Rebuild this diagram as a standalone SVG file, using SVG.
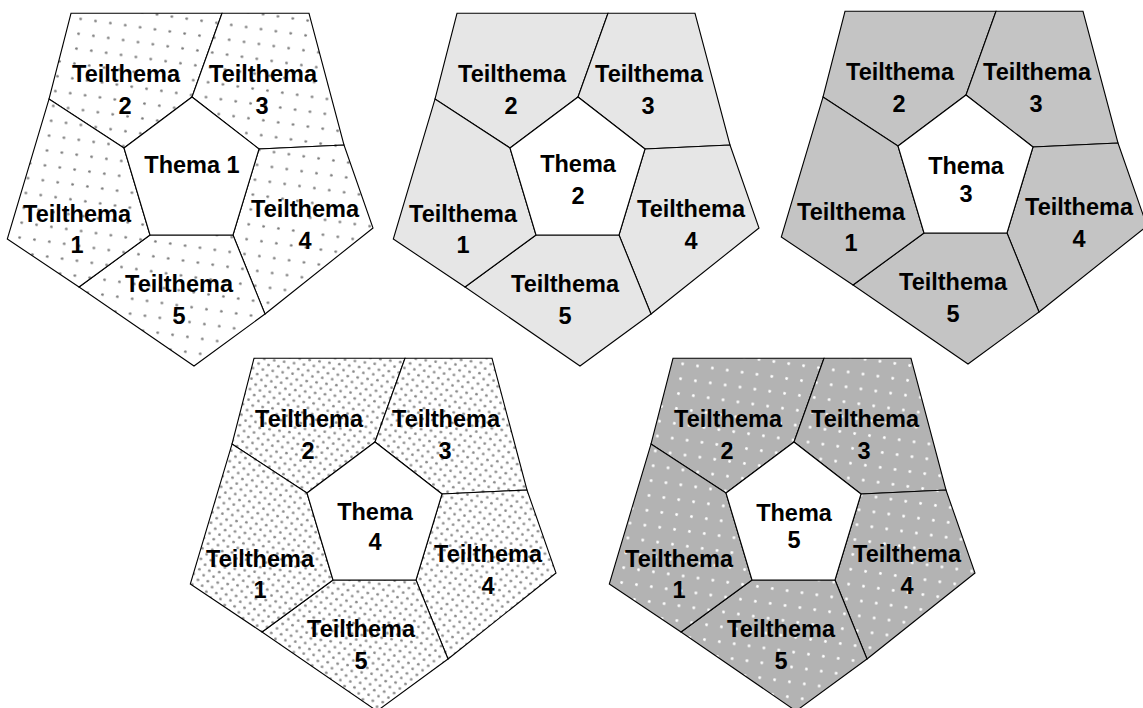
<svg xmlns="http://www.w3.org/2000/svg" width="1143" height="708" viewBox="0 0 1143 708">
<style>
.seg{stroke:#000;stroke-width:1.1;stroke-linejoin:miter}
.core{fill:#fff;stroke:#000;stroke-width:1.1}
text{font-family:"Liberation Sans",Arial,sans-serif;font-weight:bold;font-size:23.5px;fill:#000;text-anchor:middle}
</style>
<defs>
<pattern id="dotsSparse" patternUnits="userSpaceOnUse" width="15" height="15" patternTransform="rotate(8)">
<rect width="15" height="15" fill="#fff"/>
<circle cx="7.5" cy="7.5" r="1.35" fill="#7a7a7a"/>
</pattern>
<pattern id="dotsDense" patternUnits="userSpaceOnUse" width="10" height="10.6" patternTransform="rotate(8)">
<rect width="10" height="10.6" fill="#fff"/>
<circle cx="2.5" cy="2.6" r="1.35" fill="#8a8a8a"/>
<circle cx="7.5" cy="7.9" r="1.35" fill="#8a8a8a"/>
</pattern>
<pattern id="dotsWhite" patternUnits="userSpaceOnUse" width="15" height="15" patternTransform="rotate(8)">
<rect width="15" height="15" fill="#b3b3b3"/>
<circle cx="7.5" cy="7.5" r="1.4" fill="#fff"/>
</pattern>
</defs>

<g id="connectors"></g>

<!-- Pentagon 1 -->
<g id="pentagon1" transform="translate(0,0)">
<g id="p1-t2"><path class="seg" fill="url(#dotsSparse)" d="M71,13.3 L222,13.3 L192,97 L124,148 L49,99 Z"/><text x="126" y="82">Teilthema</text><text x="125" y="114">2</text></g>
<g id="p1-t3"><path class="seg" fill="url(#dotsSparse)" d="M222,13.3 L309,13.3 L344,145 L259,149 L192,97 Z"/><text x="263" y="82">Teilthema</text><text x="262" y="114">3</text></g>
<g id="p1-t4"><path class="seg" fill="url(#dotsSparse)" d="M344,145 L373,228 L265,314 L233,235 L259,149 Z"/><text x="305" y="217">Teilthema</text><text x="305" y="249">4</text></g>
<g id="p1-t5"><path class="seg" fill="url(#dotsSparse)" d="M265,314 L194,366 L79,287 L150,235 L233,235 Z"/><text x="179" y="292">Teilthema</text><text x="179" y="324">5</text></g>
<g id="p1-t1"><path class="seg" fill="url(#dotsSparse)" d="M79,287 L7.3,239 L49,99 L124,148 L150,235 Z"/><text x="77" y="222">Teilthema</text><text x="77" y="253">1</text></g>
<g id="p1-core"><path class="core" d="M192,97 L259,149 L233,235 L150,235 L124,148 Z"/><text x="192" y="173">Thema 1</text></g>
</g>

<!-- Pentagon 2 -->
<g id="pentagon2" transform="translate(386,0)">
<g id="p2-t2"><path class="seg" fill="#e6e6e6" d="M71,13.3 L222,13.3 L192,97 L124,148 L49,99 Z"/><text x="126" y="82">Teilthema</text><text x="125" y="114">2</text></g>
<g id="p2-t3"><path class="seg" fill="#e6e6e6" d="M222,13.3 L309,13.3 L344,145 L259,149 L192,97 Z"/><text x="263" y="82">Teilthema</text><text x="262" y="114">3</text></g>
<g id="p2-t4"><path class="seg" fill="#e6e6e6" d="M344,145 L373,228 L265,314 L233,235 L259,149 Z"/><text x="305" y="217">Teilthema</text><text x="305" y="249">4</text></g>
<g id="p2-t5"><path class="seg" fill="#e6e6e6" d="M265,314 L194,366 L79,287 L150,235 L233,235 Z"/><text x="179" y="292">Teilthema</text><text x="179" y="324">5</text></g>
<g id="p2-t1"><path class="seg" fill="#e6e6e6" d="M79,287 L7.3,239 L49,99 L124,148 L150,235 Z"/><text x="77" y="222">Teilthema</text><text x="77" y="253">1</text></g>
<g id="p2-core"><path class="core" d="M192,97 L259,149 L233,235 L150,235 L124,148 Z"/><text x="192" y="172">Thema</text><text x="192" y="204">2</text></g>
</g>

<!-- Pentagon 3 -->
<g id="pentagon3" transform="translate(774,-2)">
<g id="p3-t2"><path class="seg" fill="#c4c4c4" d="M71,13.3 L222,13.3 L192,97 L124,148 L49,99 Z"/><text x="126" y="82">Teilthema</text><text x="125" y="114">2</text></g>
<g id="p3-t3"><path class="seg" fill="#c4c4c4" d="M222,13.3 L309,13.3 L344,145 L259,149 L192,97 Z"/><text x="263" y="82">Teilthema</text><text x="262" y="114">3</text></g>
<g id="p3-t4"><path class="seg" fill="#c4c4c4" d="M344,145 L373,228 L265,314 L233,235 L259,149 Z"/><text x="305" y="217">Teilthema</text><text x="305" y="249">4</text></g>
<g id="p3-t5"><path class="seg" fill="#c4c4c4" d="M265,314 L194,366 L79,287 L150,235 L233,235 Z"/><text x="179" y="292">Teilthema</text><text x="179" y="324">5</text></g>
<g id="p3-t1"><path class="seg" fill="#c4c4c4" d="M79,287 L7.3,239 L49,99 L124,148 L150,235 Z"/><text x="77" y="222">Teilthema</text><text x="77" y="253">1</text></g>
<g id="p3-core"><path class="core" d="M192,97 L259,149 L233,235 L150,235 L124,148 Z"/><text x="192" y="176">Thema</text><text x="192" y="204">3</text></g>
</g>

<!-- Pentagon 4 -->
<g id="pentagon4" transform="translate(183,345)">
<g id="p4-t2"><path class="seg" fill="url(#dotsDense)" d="M71,13.3 L222,13.3 L192,97 L124,148 L49,99 Z"/><text x="126" y="82">Teilthema</text><text x="125" y="114">2</text></g>
<g id="p4-t3"><path class="seg" fill="url(#dotsDense)" d="M222,13.3 L309,13.3 L344,145 L259,149 L192,97 Z"/><text x="263" y="82">Teilthema</text><text x="262" y="114">3</text></g>
<g id="p4-t4"><path class="seg" fill="url(#dotsDense)" d="M344,145 L373,228 L265,314 L233,235 L259,149 Z"/><text x="305" y="217">Teilthema</text><text x="305" y="249">4</text></g>
<g id="p4-t5"><path class="seg" fill="url(#dotsDense)" d="M265,314 L194,366 L79,287 L150,235 L233,235 Z"/><text x="178" y="292">Teilthema</text><text x="178" y="324">5</text></g>
<g id="p4-t1"><path class="seg" fill="url(#dotsDense)" d="M79,287 L7.3,239 L49,99 L124,148 L150,235 Z"/><text x="77" y="222">Teilthema</text><text x="77" y="253">1</text></g>
<g id="p4-core"><path class="core" d="M192,97 L259,149 L233,235 L150,235 L124,148 Z"/><text x="192" y="175">Thema</text><text x="192" y="205">4</text></g>
</g>

<!-- Pentagon 5 -->
<g id="pentagon5" transform="translate(602,345)">
<g id="p5-t2"><path class="seg" fill="url(#dotsWhite)" d="M71,13.3 L222,13.3 L192,97 L124,148 L49,99 Z"/><text x="126" y="82">Teilthema</text><text x="125" y="114">2</text></g>
<g id="p5-t3"><path class="seg" fill="url(#dotsWhite)" d="M222,13.3 L309,13.3 L344,145 L259,149 L192,97 Z"/><text x="263" y="82">Teilthema</text><text x="262" y="114">3</text></g>
<g id="p5-t4"><path class="seg" fill="url(#dotsWhite)" d="M344,145 L373,228 L265,314 L233,235 L259,149 Z"/><text x="305" y="217">Teilthema</text><text x="305" y="249">4</text></g>
<g id="p5-t5"><path class="seg" fill="url(#dotsWhite)" d="M265,314 L194,366 L79,287 L150,235 L233,235 Z"/><text x="179" y="292">Teilthema</text><text x="179" y="324">5</text></g>
<g id="p5-t1"><path class="seg" fill="url(#dotsWhite)" d="M79,287 L7.3,239 L49,99 L124,148 L150,235 Z"/><text x="77" y="222">Teilthema</text><text x="77" y="253">1</text></g>
<g id="p5-core"><path class="core" d="M192,97 L259,149 L233,235 L150,235 L124,148 Z"/><text x="192" y="176">Thema</text><text x="192" y="203">5</text></g>
</g>
</svg>
